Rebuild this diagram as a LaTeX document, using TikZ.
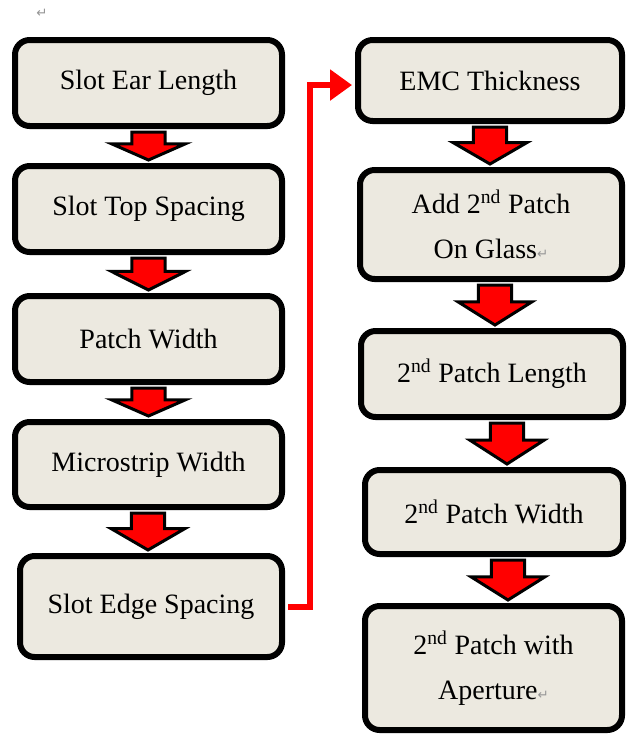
\documentclass[tikz,border=0pt]{standalone}
\usepackage{fontspec}
\setmainfont{Liberation Serif}
\newfontfamily\markfont{DejaVu Sans}
\usetikzlibrary{arrows.meta,calc}
\definecolor{BoxClr}{RGB}{236,233,224}
\definecolor{ArrClr}{RGB}{255,0,0}
\definecolor{MarkClr}{RGB}{150,150,150}

\newcommand\parmark{{\markfont\fontsize{10}{10}\selectfont\textcolor{MarkClr}{↵}}}

% block arrow from the bottom of #1 to the top of #2, x shifted by #3
\newcommand\DownArr[3]{%
  \filldraw[blockarr] let \p1=(#1.south), \p2=(#2.north),
    \n1={\x1+#3*0.75pt}, \n2={\y1-2.25pt}, \n3={\y2+2.25pt},
    \n4={\n2+0.42*(\n3-\n2)} in
    (\n1-12.4pt,\n2) -- (\n1-12.4pt,\n4) -- (\n1-27.75pt,\n4) -- (\n1,\n3)
    -- (\n1+27.75pt,\n4) -- (\n1+12.4pt,\n4) -- (\n1+12.4pt,\n2) -- cycle;
}

\begin{document}
\begin{tikzpicture}[x=0.75pt,y=-0.75pt,
  stepbox/.style={draw=black,fill=BoxClr,line width=4.5pt,rounded corners=11pt,
    inner sep=2pt,align=center,node font=\fontsize{21}{34}\selectfont},
  blockarr/.style={fill=ArrClr,draw=black,line width=2.25pt,line join=miter},
  feedline/.style={draw=ArrClr,line width=4.5pt,
    -{Triangle[width=22.5pt,length=16.5pt]}}]
\fill[white] (0,0) rectangle (626,736);
\useasboundingbox (0,0) rectangle (626,736);

\node[inner sep=0pt] (pmark) at (42,13) {\parmark};

% left column
\node[stepbox,minimum width=200.25pt,minimum height=64.5pt] (b1) at (148.5,83) {Slot Ear Length};
\node[stepbox,minimum width=200.25pt,minimum height=64.5pt] (b2) at (148.5,209) {Slot Top Spacing};
\node[stepbox,minimum width=200.25pt,minimum height=64.5pt] (b3) at (148.5,339) {Patch Width};
\node[stepbox,minimum width=200.25pt,minimum height=63.75pt] (b4) at (148.5,464.5) {Microstrip Width};
\node[stepbox,minimum width=196.5pt,minimum height=75.75pt] (b5) at (151,606.5) {Slot Edge Spacing};

% right column
\node[stepbox,minimum width=198pt,minimum height=60.75pt] (r1) at (490,80.5) {EMC Thickness};
\node[stepbox,minimum width=196.5pt,minimum height=81.75pt] (r2) at (491,224.5) {Add 2\textsuperscript{nd} Patch\\On Glass\parmark};
\node[stepbox,minimum width=196.5pt,minimum height=64.5pt] (r3) at (492,374) {2\textsuperscript{nd} Patch Length};
\node[stepbox,minimum width=193.5pt,minimum height=63pt] (r4) at (494,512) {2\textsuperscript{nd} Patch Width};
\node[stepbox,minimum width=192.75pt,minimum height=93pt] (r5) at (493.5,668) {2\textsuperscript{nd} Patch with\\Aperture\parmark};

\DownArr{b1}{b2}{0}
\DownArr{b2}{b3}{0}
\DownArr{b3}{b4}{0}
\DownArr{b4}{b5}{-0.5}
\DownArr{r1}{r2}{0}
\DownArr{r2}{r3}{4}
\DownArr{r3}{r4}{15}
\DownArr{r4}{r5}{14}

\draw[feedline] ([xshift=2.25pt]b5.east) -- ++(22,0) |- ([xshift=-2.25pt,yshift=-3.4pt]r1.west);

\end{tikzpicture}
\end{document}
